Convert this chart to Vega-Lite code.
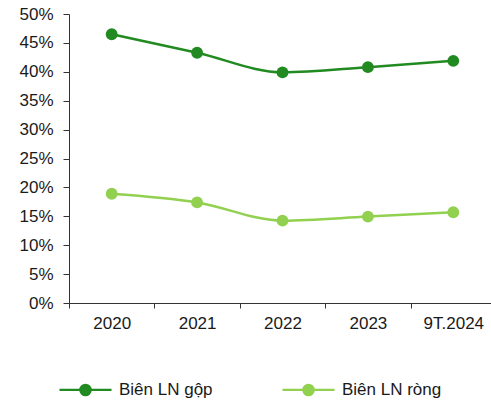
{
  "$schema": "https://vega.github.io/schema/vega-lite/v6.json",
  "autosize": {"type": "none"},
  "width": 422,
  "height": 289,
  "padding": {"left": 69, "top": 14, "right": 0, "bottom": 101},
  "background": "white",
  "config": {
    "view": {"stroke": null},
    "font": "Liberation Sans"
  },
  "data": {
    "values": [
      {"year": "2020", "series": "Biên LN gộp", "value": 46.5},
      {"year": "2021", "series": "Biên LN gộp", "value": 43.3},
      {"year": "2022", "series": "Biên LN gộp", "value": 39.9},
      {"year": "2023", "series": "Biên LN gộp", "value": 40.8},
      {"year": "9T.2024", "series": "Biên LN gộp", "value": 41.9},
      {"year": "2020", "series": "Biên LN ròng", "value": 18.9},
      {"year": "2021", "series": "Biên LN ròng", "value": 17.4},
      {"year": "2022", "series": "Biên LN ròng", "value": 14.25},
      {"year": "2023", "series": "Biên LN ròng", "value": 14.95},
      {"year": "9T.2024", "series": "Biên LN ròng", "value": 15.7}
    ]
  },
  "encoding": {
    "x": {
      "field": "year",
      "type": "ordinal",
      "sort": null,
      "scale": {"type": "band", "range": [0, 427], "paddingInner": 0, "paddingOuter": 0},
      "axis": {
        "title": null,
        "labelAngle": 0,
        "tickBand": "extent",
        "labelFontSize": 17,
        "labelColor": "#1a1a1a",
        "domainColor": "#333333",
        "tickColor": "#333333",
        "tickSize": 5,
        "labelPadding": 7,
        "grid": false
      }
    },
    "y": {
      "field": "value",
      "type": "quantitative",
      "scale": {"domain": [0, 50], "nice": false},
      "axis": {
        "title": null,
        "values": [0, 5, 10, 15, 20, 25, 30, 35, 40, 45, 50],
        "labelExpr": "datum.value + '%'",
        "labelFontSize": 17,
        "labelColor": "#1a1a1a",
        "domainColor": "#333333",
        "tickColor": "#333333",
        "tickSize": 6,
        "labelPadding": 10,
        "grid": false
      }
    },
    "color": {
      "field": "series",
      "type": "nominal",
      "scale": {"domain": ["Biên LN gộp", "Biên LN ròng"], "range": ["#218a21", "#92d050"]},
      "legend": {
        "title": null,
        "orient": "none",
        "direction": "horizontal",
        "legendX": -11,
        "legendY": 348,
        "symbolType": "M-1,0L-0.2,0M0.2,0L1,0M-0.2,0A0.2,0.2 0 1,1 0.2,0A0.2,0.2 0 1,1 -0.2,0",
        "symbolSize": 2704,
        "symbolStrokeWidth": 2.2,
        "labelFontSize": 17,
        "labelColor": "#1a1a1a",
        "labelOffset": 6,
        "columnPadding": 65,
        "labelLimit": 200,
        "encode": {
          "symbols": {"update": {"fill": {"scale": "color", "field": "value"}, "fillOpacity": {"value": 1}}}
        }
      }
    }
  },
  "layer": [
    {
      "mark": {"type": "line", "interpolate": "monotone", "strokeWidth": 2.5},
      "encoding": {}
    },
    {
      "mark": {"type": "point", "filled": true, "size": 140, "opacity": 1},
      "encoding": {}
    }
  ]
}
